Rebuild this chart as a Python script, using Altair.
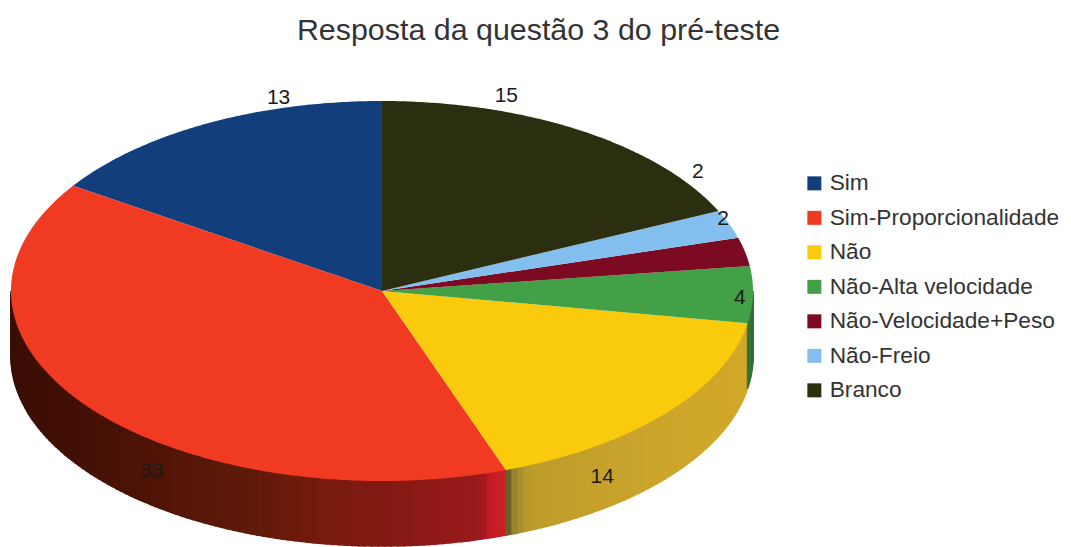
import math
import altair as alt

TITLE = "Resposta da questão 3 do pré-teste"
categories = ["Sim", "Sim-Proporcionalidade", "Não", "Não-Alta velocidade",
              "Não-Velocidade+Peso", "Não-Freio", "Branco"]
values = [13, 33, 14, 4, 2, 2, 15]
colors = ["#123f7c", "#f03a21", "#f9cb0c", "#42a047", "#7c0a22", "#83bfee", "#2b2f10"]
label_gap = [11, 34, 36, -13, -2, 18, 17]

# Colour of the side wall as a function of page x, one list of stops per slice
wall_x = {
    1: [11, 120, 250, 320, 400, 483, 490, 507],
    2: [507, 516, 530, 650, 750],
    3: [745, 755],
}
wall_c = {
    1: ["#3a0e05", "#4a1206", "#5f1a09", "#751b0d", "#861a14", "#9c1a1c", "#c01c24", "#cc2026"],
    2: ["#5f5226", "#9c8a2e", "#bd9c2c", "#cba52c", "#d2a829"],
    3: ["#3a7a3a", "#2f6d35"],
}

OX, OY = 8, 68          # page position of the plot origin
CX, CY = 382 - OX, 291 - OY
RX, RY, DEPTH = 371, 190, 65
W, H = 1055, 479


def pt(a, dy=0):
    r = math.radians(a)
    return [CX - RX * math.sin(r), CY - RY * math.cos(r) + dy]


def hex2rgb(h):
    return [int(h[i:i + 2], 16) for i in (1, 3, 5)]


def wall_color(i, x):
    xs, cs = wall_x[i], wall_c[i]
    px = x + OX
    if px <= xs[0]:
        return cs[0]
    for k in range(len(xs) - 1):
        if px <= xs[k + 1]:
            t = (px - xs[k]) / (xs[k + 1] - xs[k])
            a, b = hex2rgb(cs[k]), hex2rgb(cs[k + 1])
            return "#%02x%02x%02x" % tuple(round(u + (v - u) * t) for u, v in zip(a, b))
    return cs[-1]


total = sum(values)
tops, walls, labels = [], [], []
cum = 0
for i, (name, v) in enumerate(zip(categories, values)):
    a0 = cum / total * 360
    a1 = (cum + v) / total * 360
    cum += v
    n = max(2, int((a1 - a0) / 0.5))
    ring = [pt(a0 + (a1 - a0) * k / n) for k in range(n + 1)]
    tops.append({"type": "Feature",
                 "geometry": {"type": "Polygon", "coordinates": [[[CX, CY]] + ring + [[CX, CY]]]},
                 "properties": {"slice": name}})
    lo, hi = max(a0, 90), min(a1, 270)
    if hi > lo:
        m = max(1, int((hi - lo) / 1.0))
        for k in range(m):
            s = lo + (hi - lo) * k / m
            e = lo + (hi - lo) * (k + 1) / m
            c = wall_color(i, (pt(s)[0] + pt(e)[0]) / 2)
            walls.append({"type": "Feature",
                          "geometry": {"type": "Polygon", "coordinates": [[
                              pt(s), pt(e), pt(e, DEPTH), pt(s, DEPTH), pt(s)]]},
                          "properties": {"c": c}})
    mid = math.radians((a0 + a1) / 2)
    sn, cs = math.sin(mid), math.cos(mid)
    r = 1 / math.sqrt((sn / RX) ** 2 + (cs / RY) ** 2) + label_gap[i]
    labels.append({"lon": CX - r * sn, "lat": CY - r * cs, "txt": str(v)})

proj = dict(type="identity", scale=1, translate=[0, 0])

wall_layer = alt.Chart(alt.Data(values=walls)).mark_geoshape(strokeWidth=1.6).encode(
    color=alt.Color("properties.c:N", scale=None, legend=None),
    stroke=alt.Stroke("properties.c:N", scale=None, legend=None),
).project(**proj)

top_layer = alt.Chart(alt.Data(values=tops)).mark_geoshape(strokeWidth=0).encode(
    color=alt.Color(
        "properties.slice:N",
        scale=alt.Scale(domain=categories, range=colors),
        sort=categories,
        legend=alt.Legend(
            title=None, orient="none", legendX=807 - OX - 12, legendY=164 - OY,
            symbolType="square", symbolSize=196, symbolStrokeWidth=0,
            labelFont="Liberation Sans", labelFontSize=22.7, labelColor="#333333",
            labelLimit=320, rowPadding=10.5, labelOffset=4, padding=8,
        ),
    ),
).project(**proj)

label_layer = alt.Chart(alt.Data(values=labels)).mark_text(
    font="Liberation Sans", fontSize=21, color="#1a1a1a", align="center", baseline="middle",
).encode(
    longitude="lon:Q", latitude="lat:Q", text="txt:N",
).project(**proj)

chart = alt.layer(wall_layer, top_layer, label_layer).resolve_scale(
    color="independent", stroke="independent",
).properties(
    width=W, height=H,
    padding={"left": 0, "top": OY - 8, "right": 0, "bottom": 0},
    autosize=alt.AutoSizeParams(type="none"),
    title=alt.TitleParams(TITLE, font="Liberation Sans", fontSize=30.4, fontWeight="normal",
                          color="#333333", anchor="middle", dx=3, offset=22),
).configure_view(stroke=None)

chart.save("out.html", embed_options={"renderer": "svg", "actions": False})
